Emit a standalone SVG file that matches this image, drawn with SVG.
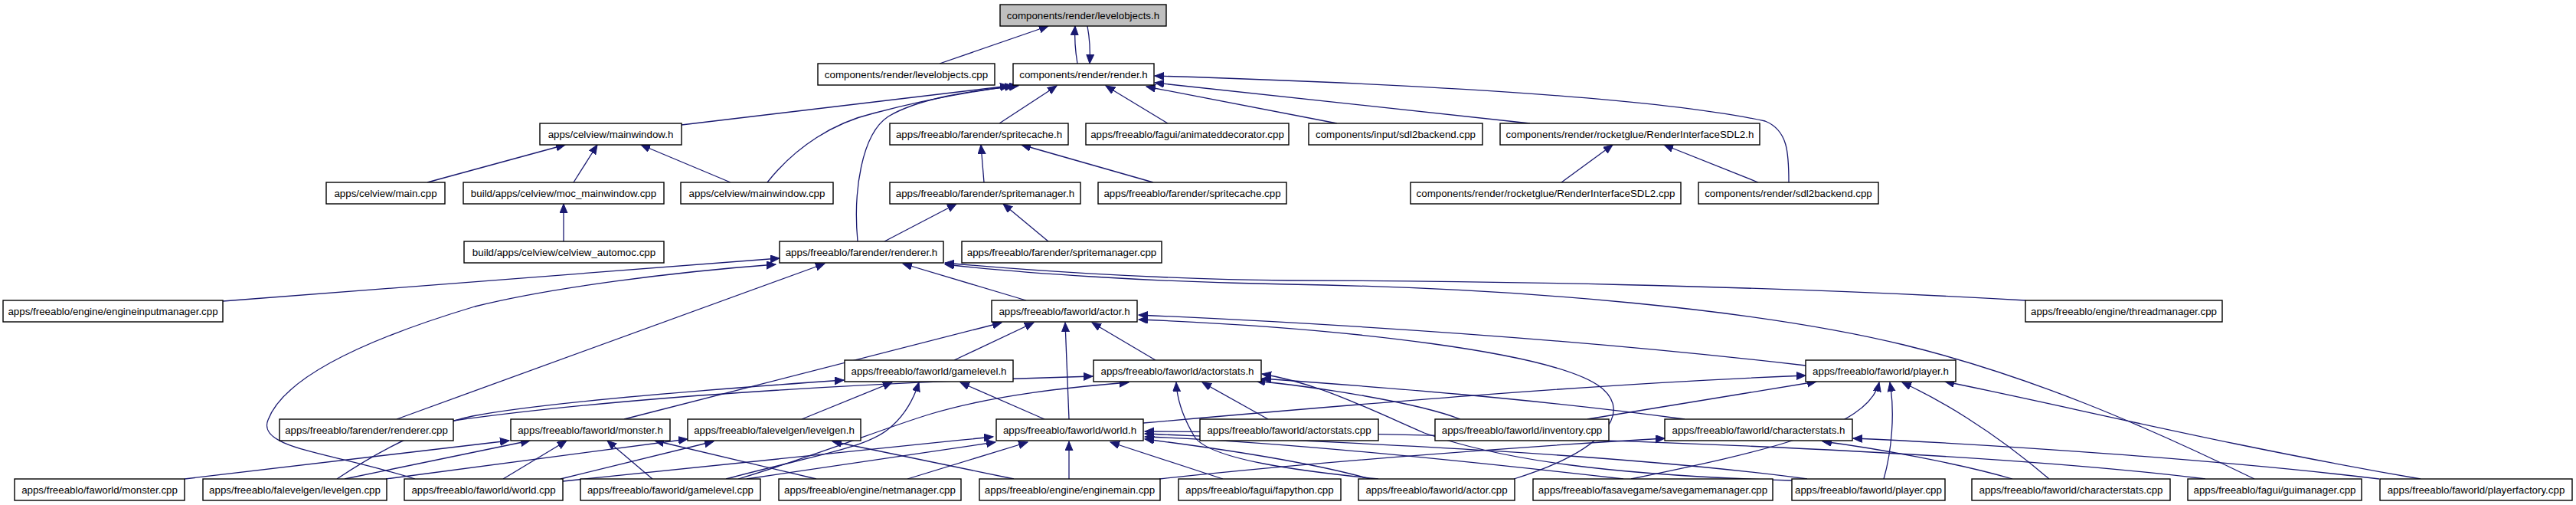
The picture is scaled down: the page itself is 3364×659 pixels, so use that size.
<svg xmlns="http://www.w3.org/2000/svg" width="3364" height="659" viewBox="0 0 3364 659">
<defs>
<marker id="ah" markerUnits="userSpaceOnUse" markerWidth="14" markerHeight="12" refX="12" refY="5" orient="auto">
<path d="M0,0 L12,5 L0,10 Z" fill="#191970" stroke="#191970" stroke-width="1"/>
</marker>
</defs>
<style>
.n rect{fill:#fff;stroke:#000;stroke-width:1.4}
.n text{font-family:"Liberation Sans",Arial,Helvetica,sans-serif;font-size:13.33px;text-anchor:middle;fill:#000}
#edges path{fill:none;stroke:#191970;stroke-width:1.3;marker-end:url(#ah)}
</style>
<rect width="3364" height="659" fill="#fff"/>
<g id="edges">
<path d="M1227,83 L1369,34"/>
<path d="M1407,83 C1404,65 1403,50 1404,34"/>
<path d="M1420,34 C1423,50 1424,65 1423,83"/>
<path d="M890,163 L1318,112"/>
<path d="M1002,238 C1040,190 1090,160 1140,148 C1200,132 1270,119 1324,112"/>
<path d="M1120,315 C1114,250 1125,175 1160,152 C1200,128 1270,118 1330,112"/>
<path d="M1305,161 L1380,112"/>
<path d="M1525,161 L1444,112"/>
<path d="M1746,161 L1497,113"/>
<path d="M1998,161 L1508,108"/>
<path d="M2336,238 C2336,200 2335,170 2305,158 C2150,125 1800,108 1508,99"/>
<path d="M558,238 L738,189"/>
<path d="M749,238 L780,189"/>
<path d="M954,238 L837,189"/>
<path d="M736,315 L736,266"/>
<path d="M1285,238 L1281,189"/>
<path d="M1506,238 L1334,189"/>
<path d="M2039,238 L2106,189"/>
<path d="M2296,238 L2173,189"/>
<path d="M1155,315 L1249,266"/>
<path d="M1369,315 L1310,266"/>
<path d="M291,393 L1018,337"/>
<path d="M542,625 C430,590 335,585 350,548 C370,495 470,445 620,400 C720,375 880,355 1013,345"/>
<path d="M518,547 L1077,344"/>
<path d="M1340,392 L1179,344"/>
<path d="M2645,392 C2300,372 1900,366 1682,366 C1500,364 1330,352 1234,343"/>
<path d="M2944,625 C2800,555 2650,490 2486,450 C2300,405 2000,376 1682,371 C1500,368 1330,356 1234,345"/>
<path d="M815,547 L1308,421"/>
<path d="M1246,470 L1350,421"/>
<path d="M1396,547 L1391,421"/>
<path d="M1509,470 L1426,421"/>
<path d="M2358,477 C2100,447 1800,425 1487,411"/>
<path d="M1977,625 C2090,590 2135,540 2090,505 C2030,460 1760,428 1487,417"/>
<path d="M241,625 L665,575"/>
<path d="M450,625 L692,575"/>
<path d="M657,625 L740,575"/>
<path d="M852,625 L793,575"/>
<path d="M1066,625 L855,575"/>
<path d="M504,625 L898,573"/>
<path d="M732,625 L932,576"/>
<path d="M1324,625 L1087,576"/>
<path d="M1047,547 L1165,499"/>
<path d="M948,625 C1060,595 1130,585 1160,560 C1185,540 1195,515 1200,499"/>
<path d="M1364,547 L1254,499"/>
<path d="M440,625 C500,585 560,555 617,543 C700,527 900,510 1102,496"/>
<path d="M592,549 C800,520 1100,500 1427,491"/>
<path d="M964,625 C1080,590 1150,560 1216,540 C1300,515 1400,505 1474,499"/>
<path d="M1656,547 L1570,499"/>
<path d="M1907,547 C1850,525 1720,505 1640,497"/>
<path d="M2200,547 C2000,520 1800,505 1648,494"/>
<path d="M2340,627 C2100,620 1960,600 1860,565 C1780,530 1720,500 1648,488"/>
<path d="M1800,625 C1700,615 1580,600 1560,570 C1545,545 1537,520 1536,499"/>
<path d="M1396,625 L1396,576"/>
<path d="M1185,625 L1342,577"/>
<path d="M1597,625 L1450,577"/>
<path d="M735,628 C900,610 1100,590 1297,570"/>
<path d="M975,625 L1300,577"/>
<path d="M1789,625 C1700,600 1550,580 1495,573"/>
<path d="M2120,625 C1900,600 1650,575 1495,570"/>
<path d="M2360,625 C2100,590 1700,575 1495,566"/>
<path d="M2880,625 C2600,590 2000,565 1495,563"/>
<path d="M1493,552 C1800,525 2100,500 2358,490"/>
<path d="M2073,547 L2372,498"/>
<path d="M1514,625 C1700,605 1950,585 2174,572"/>
<path d="M2628,625 C2560,605 2450,585 2380,576"/>
<path d="M3107,625 C2900,600 2600,580 2420,572"/>
<path d="M2130,625 C2300,590 2440,560 2454,499"/>
<path d="M2460,625 C2470,590 2475,540 2468,499"/>
<path d="M2676,625 C2600,560 2530,520 2484,499"/>
<path d="M3161,625 C2900,580 2700,530 2540,498"/>
</g>
<g id="n1" class="n"><rect x="1306" y="6" width="217" height="28" style="fill:#bfbfbf"/><text x="1414.5" y="25">components/render/levelobjects.h</text></g>
<g id="n2" class="n"><rect x="1068" y="83" width="231" height="28"/><text x="1183.5" y="102">components/render/levelobjects.cpp</text></g>
<g id="n3" class="n"><rect x="1323" y="83" width="184" height="28"/><text x="1415" y="102">components/render/render.h</text></g>
<g id="n4" class="n"><rect x="705" y="161" width="185" height="28"/><text x="797.5" y="180">apps/celview/mainwindow.h</text></g>
<g id="n5" class="n"><rect x="1162" y="161" width="233" height="28"/><text x="1278.5" y="180">apps/freeablo/farender/spritecache.h</text></g>
<g id="n6" class="n"><rect x="1418" y="161" width="265" height="28"/><text x="1550.5" y="180">apps/freeablo/fagui/animateddecorator.cpp</text></g>
<g id="n7" class="n"><rect x="1709" y="161" width="227" height="28"/><text x="1822.5" y="180">components/input/sdl2backend.cpp</text></g>
<g id="n8" class="n"><rect x="1959" y="161" width="339" height="28"/><text x="2128.5" y="180">components/render/rocketglue/RenderInterfaceSDL2.h</text></g>
<g id="n9" class="n"><rect x="426" y="238" width="155" height="28"/><text x="503.5" y="257">apps/celview/main.cpp</text></g>
<g id="n10" class="n"><rect x="605" y="238" width="262" height="28"/><text x="736" y="257">build/apps/celview/moc_mainwindow.cpp</text></g>
<g id="n11" class="n"><rect x="889" y="238" width="199" height="28"/><text x="988.5" y="257">apps/celview/mainwindow.cpp</text></g>
<g id="n12" class="n"><rect x="1162" y="238" width="249" height="28"/><text x="1286.5" y="257">apps/freeablo/farender/spritemanager.h</text></g>
<g id="n13" class="n"><rect x="1434" y="238" width="246" height="28"/><text x="1557" y="257">apps/freeablo/farender/spritecache.cpp</text></g>
<g id="n14" class="n"><rect x="1842" y="238" width="353" height="28"/><text x="2018.5" y="257">components/render/rocketglue/RenderInterfaceSDL2.cpp</text></g>
<g id="n15" class="n"><rect x="2218" y="238" width="235" height="28"/><text x="2335.5" y="257">components/render/sdl2backend.cpp</text></g>
<g id="n16" class="n"><rect x="606" y="315" width="261" height="28"/><text x="736.5" y="334">build/apps/celview/celview_automoc.cpp</text></g>
<g id="n17" class="n"><rect x="1018" y="315" width="214" height="28"/><text x="1125" y="334">apps/freeablo/farender/renderer.h</text></g>
<g id="n18" class="n"><rect x="1256" y="315" width="261" height="28"/><text x="1386.5" y="334">apps/freeablo/farender/spritemanager.cpp</text></g>
<g id="n19" class="n"><rect x="4" y="392" width="287" height="28"/><text x="147.5" y="411">apps/freeablo/engine/engineinputmanager.cpp</text></g>
<g id="n20" class="n"><rect x="1295" y="392" width="190" height="28"/><text x="1390" y="411">apps/freeablo/faworld/actor.h</text></g>
<g id="n21" class="n"><rect x="2645" y="392" width="257" height="28"/><text x="2773.5" y="411">apps/freeablo/engine/threadmanager.cpp</text></g>
<g id="n22" class="n"><rect x="1103" y="470" width="220" height="28"/><text x="1213" y="489">apps/freeablo/faworld/gamelevel.h</text></g>
<g id="n23" class="n"><rect x="1428" y="470" width="219" height="28"/><text x="1537.5" y="489">apps/freeablo/faworld/actorstats.h</text></g>
<g id="n24" class="n"><rect x="2358" y="470" width="196" height="28"/><text x="2456" y="489">apps/freeablo/faworld/player.h</text></g>
<g id="n25" class="n"><rect x="365" y="547" width="227" height="28"/><text x="478.5" y="566">apps/freeablo/farender/renderer.cpp</text></g>
<g id="n26" class="n"><rect x="667" y="547" width="208" height="28"/><text x="771" y="566">apps/freeablo/faworld/monster.h</text></g>
<g id="n27" class="n"><rect x="898" y="547" width="226" height="28"/><text x="1011" y="566">apps/freeablo/falevelgen/levelgen.h</text></g>
<g id="n28" class="n"><rect x="1301" y="547" width="192" height="28"/><text x="1397" y="566">apps/freeablo/faworld/world.h</text></g>
<g id="n29" class="n"><rect x="1567" y="547" width="233" height="28"/><text x="1683.5" y="566">apps/freeablo/faworld/actorstats.cpp</text></g>
<g id="n30" class="n"><rect x="1874" y="547" width="227" height="28"/><text x="1987.5" y="566">apps/freeablo/faworld/inventory.cpp</text></g>
<g id="n31" class="n"><rect x="2174" y="547" width="245" height="28"/><text x="2296.5" y="566">apps/freeablo/faworld/characterstats.h</text></g>
<g id="n32" class="n"><rect x="19" y="625" width="222" height="28"/><text x="130" y="644">apps/freeablo/faworld/monster.cpp</text></g>
<g id="n33" class="n"><rect x="265" y="625" width="240" height="28"/><text x="385" y="644">apps/freeablo/falevelgen/levelgen.cpp</text></g>
<g id="n34" class="n"><rect x="528" y="625" width="207" height="28"/><text x="631.5" y="644">apps/freeablo/faworld/world.cpp</text></g>
<g id="n35" class="n"><rect x="758" y="625" width="235" height="28"/><text x="875.5" y="644">apps/freeablo/faworld/gamelevel.cpp</text></g>
<g id="n36" class="n"><rect x="1017" y="625" width="238" height="28"/><text x="1136" y="644">apps/freeablo/engine/netmanager.cpp</text></g>
<g id="n37" class="n"><rect x="1279" y="625" width="236" height="28"/><text x="1397" y="644">apps/freeablo/engine/enginemain.cpp</text></g>
<g id="n38" class="n"><rect x="1539" y="625" width="212" height="28"/><text x="1645" y="644">apps/freeablo/fagui/fapython.cpp</text></g>
<g id="n39" class="n"><rect x="1774" y="625" width="204" height="28"/><text x="1876" y="644">apps/freeablo/faworld/actor.cpp</text></g>
<g id="n40" class="n"><rect x="2002" y="625" width="313" height="28"/><text x="2158.5" y="644">apps/freeablo/fasavegame/savegamemanager.cpp</text></g>
<g id="n41" class="n"><rect x="2340" y="625" width="200" height="28"/><text x="2440" y="644">apps/freeablo/faworld/player.cpp</text></g>
<g id="n42" class="n"><rect x="2575" y="625" width="259" height="28"/><text x="2704.5" y="644">apps/freeablo/faworld/characterstats.cpp</text></g>
<g id="n43" class="n"><rect x="2857" y="625" width="227" height="28"/><text x="2970.5" y="644">apps/freeablo/fagui/guimanager.cpp</text></g>
<g id="n44" class="n"><rect x="3108" y="625" width="251" height="28"/><text x="3233.5" y="644">apps/freeablo/faworld/playerfactory.cpp</text></g>
</svg>
